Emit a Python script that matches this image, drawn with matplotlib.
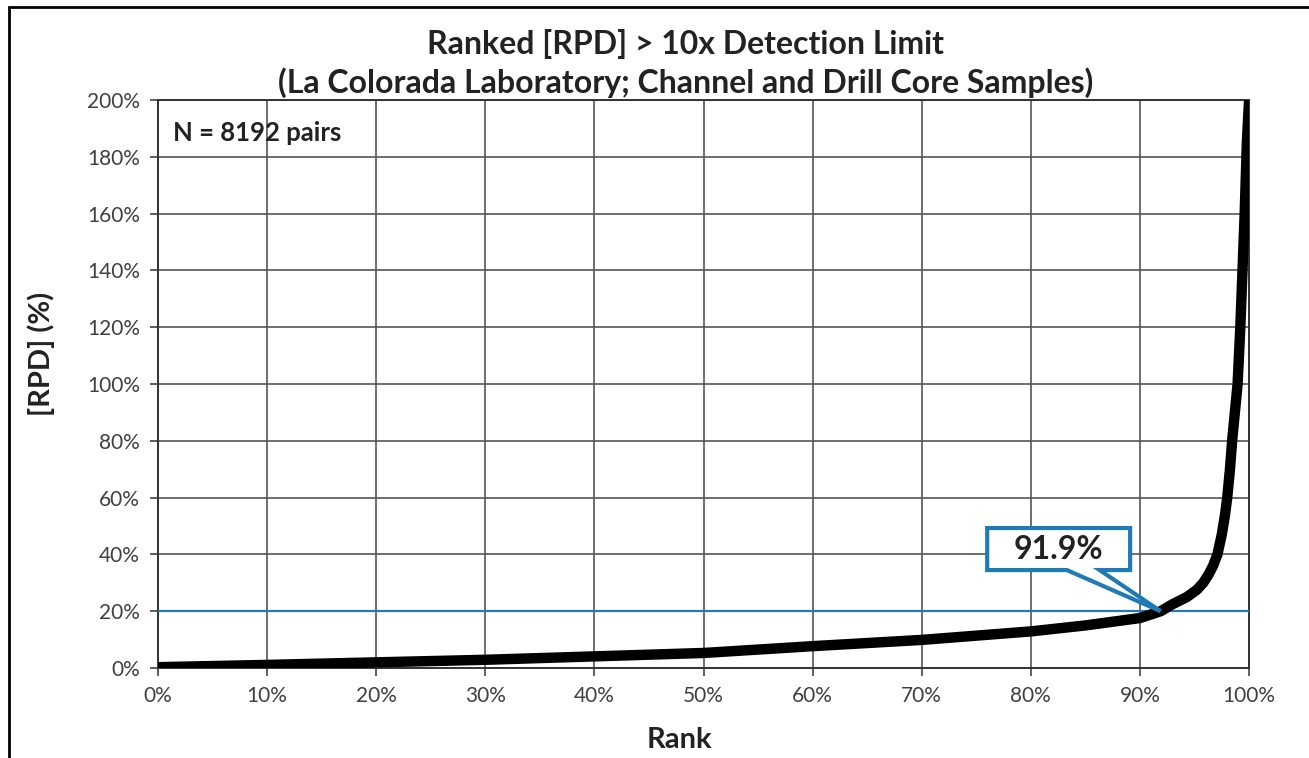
import matplotlib
matplotlib.use("Agg")
import matplotlib.pyplot as plt
from matplotlib.ticker import PercentFormatter, MultipleLocator
from matplotlib.patches import Polygon, Rectangle

plt.rcParams['font.family'] = ['Lato', 'DejaVu Sans']

# ranked |RPD| curve, read at points along the rank axis (fractions)
rank = [0.0, 0.05, 0.10, 0.20, 0.30, 0.40, 0.50, 0.60, 0.70, 0.80, 0.85,
        0.90, 0.919, 0.93, 0.943, 0.952, 0.958, 0.963, 0.967, 0.971, 0.975,
        0.978, 0.980, 0.9825, 0.9845, 0.987, 0.9895, 0.992, 0.994, 0.996,
        0.998, 1.0]
rpd = [0.003, 0.007, 0.011, 0.020, 0.029, 0.041, 0.053, 0.077, 0.099, 0.129,
       0.150, 0.176, 0.200, 0.225, 0.250, 0.275, 0.300, 0.330, 0.360, 0.400,
       0.470, 0.540, 0.600, 0.700, 0.800, 0.900, 1.000, 1.200, 1.400, 1.600,
       1.850, 2.000]

threshold = 0.20
cross_rank = 0.919
n_pairs = 8192

title = "Ranked [RPD] > 10x Detection Limit\n(La Colorada Laboratory; Channel and Drill Core Samples)"
blue = '#1f7bb6'
grey_txt = '#404040'
dark_txt = '#222222'

fig = plt.figure(figsize=(13.09, 7.58), dpi=100)
ax = fig.add_axes([0.1207, 0.1187, 0.8335, 0.7493])

ax.plot(rank, rpd, color='black', lw=7.5, solid_capstyle='round',
        solid_joinstyle='round', zorder=4)
ax.axhline(threshold, color=blue, lw=1.6, zorder=3)

ax.set_xlim(0, 1)
ax.set_ylim(0, 2)
ax.xaxis.set_major_locator(MultipleLocator(0.1))
ax.yaxis.set_major_locator(MultipleLocator(0.2))
ax.xaxis.set_major_formatter(PercentFormatter(1.0, decimals=0))
ax.yaxis.set_major_formatter(PercentFormatter(1.0, decimals=0))
ax.grid(True, color='#555555', lw=1.2)
ax.set_axisbelow(True)
for s in ax.spines.values():
    s.set_color('#333333')
    s.set_linewidth(1.4)
ax.tick_params(direction='out', length=6, width=1.1, color='#333333',
               labelsize=15, labelcolor=grey_txt, pad=7)

ax.set_xlabel("Rank", fontsize=21, fontweight='bold', color=dark_txt)
ax.set_ylabel("[RPD] (%)", fontsize=21, fontweight='bold', color=dark_txt)
ax.xaxis.set_label_coords(0.478, -0.104)
ax.yaxis.set_label_coords(-0.094, 0.553)
fig.text(0.524, 0.9165, title, ha='center', va='center', fontsize=23,
         fontweight='bold', color=dark_txt, linespacing=1.3)

ax.text(0.014, 1.885, f"N = {n_pairs} pairs", fontsize=18.5, fontweight='bold',
        color=dark_txt, va='center', ha='left')

# callout box with pointer to the crossing point
bx0, bx1, by0, by1 = 0.760, 0.891, 0.345, 0.493
wx0, wx1 = 0.833, 0.863
callout = Polygon([(bx0, by0), (bx0, by1), (bx1, by1), (bx1, by0), (wx1, by0),
                   (cross_rank, threshold), (wx0, by0)],
                  closed=True, facecolor='white', edgecolor=blue, lw=3,
                  joinstyle='miter', zorder=5)
ax.add_patch(callout)
ax.text((bx0 + bx1) / 2, (by0 + by1) / 2, f"{cross_rank * 100:.1f}%",
        ha='center', va='center', fontsize=23, fontweight='bold',
        color=dark_txt, zorder=6)

# outer frame
fig.patches.append(Rectangle((0.007, -0.1), 1.2, 1.091, transform=fig.transFigure,
                             fill=False, edgecolor='black', lw=2))

fig.savefig("out.png", dpi=100)
